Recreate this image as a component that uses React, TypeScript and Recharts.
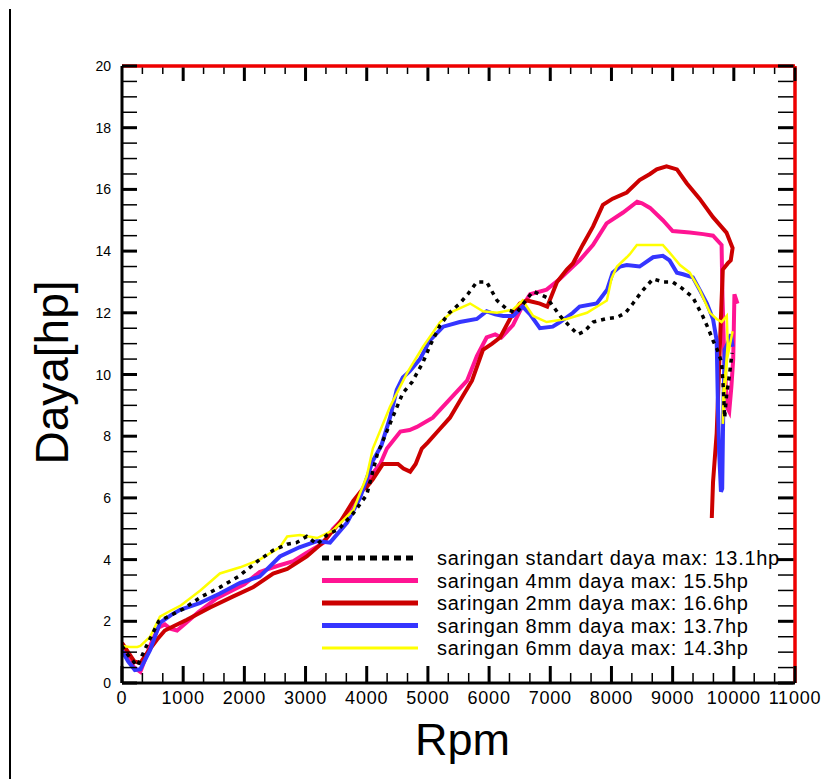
import React from 'react';
import { LineChart, Line, XAxis, YAxis, Legend, ReferenceLine } from 'recharts';

// ---- data ----
const STD_RPM = [0, 100, 250, 400, 600, 800, 1000, 1300, 1600, 1900, 2250, 2470, 2700, 2850, 3020, 3190, 3350, 3550, 3780, 4000, 4170, 4400, 4590, 4740, 4920, 5050, 5200, 5350, 5520, 5650, 5800, 5960, 6130, 6300, 6450, 6600, 6720, 6940, 7160, 7300, 7450, 7560, 7700, 7900, 8090, 8230, 8350, 8500, 8680, 8850, 9000, 9150, 9330, 9490, 9580, 9660, 9730, 9800, 9830, 9850, 9880, 9930, 9970];
const STD_HP = [1.2, 0.9, 0.55, 1.2, 2.0, 2.2, 2.4, 2.8, 3.1, 3.45, 4.0, 4.3, 4.5, 4.55, 4.75, 4.5, 4.8, 5.0, 5.5, 6.1, 7.4, 8.5, 9.4, 9.75, 10.4, 11.0, 11.6, 12.0, 12.3, 12.6, 13.0, 13.0, 12.4, 12.1, 12.0, 12.4, 12.7, 12.5, 11.9, 11.6, 11.3, 11.4, 11.7, 11.8, 11.85, 12.0, 12.3, 12.7, 13.1, 13.0, 13.0, 12.8, 12.5, 11.9, 11.5, 11.1, 10.8, 10.4, 9.5, 8.6, 9.3, 10.0, 10.7];

const MM4_RPM = [0, 100, 200, 300, 400, 500, 600, 700, 800, 900, 1050, 1250, 1550, 1800, 2000, 2250, 2550, 2800, 3000, 3300, 3450, 3650, 3900, 4100, 4220, 4330, 4550, 4700, 4820, 5080, 5360, 5640, 5800, 5960, 6100, 6200, 6390, 6540, 6670, 6940, 7160, 7370, 7480, 7700, 7920, 8190, 8420, 8500, 8630, 8840, 9000, 9280, 9500, 9660, 9800, 9815, 9840, 9870, 9900, 9925, 9960, 9990, 10000, 10010, 10060];
const MM4_HP = [1.1, 0.8, 0.5, 0.36, 0.9, 1.4, 1.8, 1.9, 1.75, 1.7, 1.95, 2.3, 2.75, 3.0, 3.2, 3.6, 3.8, 3.95, 4.2, 4.55, 5.0, 5.4, 6.2, 6.8, 7.1, 7.6, 8.15, 8.2, 8.3, 8.6, 9.2, 9.8, 10.6, 11.2, 11.3, 11.2, 11.6, 12.2, 12.6, 12.75, 13.1, 13.5, 13.7, 14.2, 14.9, 15.25, 15.6, 15.55, 15.4, 15.0, 14.65, 14.6, 14.55, 14.5, 14.2, 12.5, 10.8, 9.6, 8.9, 8.8, 9.6, 10.5, 11.5, 12.6, 12.3];

const MM2_RPM = [0, 100, 200, 300, 420, 570, 700, 850, 1060, 1440, 1810, 2140, 2470, 2700, 3020, 3280, 3560, 3780, 3900, 4000, 4100, 4265, 4400, 4510, 4600, 4710, 4800, 4900, 5000, 5180, 5360, 5570, 5720, 5900, 6050, 6180, 6340, 6500, 6620, 6830, 6950, 7110, 7270, 7370, 7530, 7700, 7860, 8020, 8250, 8460, 8630, 8740, 8900, 9070, 9230, 9440, 9660, 9880, 9980, 9950, 9900, 9820, 9800, 9770, 9720, 9660, 9640];
const MM2_HP = [1.3, 1.0, 0.7, 0.65, 1.0, 1.4, 1.7, 1.85, 2.05, 2.45, 2.8, 3.1, 3.55, 3.7, 4.1, 4.55, 5.2, 5.9, 6.2, 6.35, 6.6, 7.1, 7.1, 7.1, 6.95, 6.85, 7.1, 7.6, 7.8, 8.2, 8.6, 9.3, 9.8, 10.8, 11.0, 11.2, 11.8, 12.3, 12.4, 12.3, 12.2, 13.0, 13.4, 13.6, 14.2, 14.8, 15.5, 15.7, 15.9, 16.3, 16.5, 16.65, 16.75, 16.65, 16.2, 15.7, 15.1, 14.6, 14.1, 13.7, 13.6, 13.4, 12.4, 10.8, 8.1, 6.5, 5.35];

const MM8_RPM = [0, 100, 210, 300, 460, 620, 800, 950, 1280, 1600, 1930, 2250, 2580, 2900, 3190, 3400, 3680, 3890, 4100, 4240, 4380, 4490, 4590, 4700, 4870, 5030, 5250, 5520, 5800, 5960, 6100, 6230, 6390, 6550, 6670, 6830, 7040, 7160, 7370, 7480, 7760, 7930, 8020, 8140, 8250, 8460, 8680, 8840, 8950, 9070, 9170, 9330, 9440, 9560, 9660, 9720, 9740, 9760, 9790, 9810, 9825, 9850, 9900, 9950, 9980];
const MM8_HP = [1.05, 0.7, 0.42, 0.45, 1.07, 1.95, 2.2, 2.37, 2.6, 2.9, 3.25, 3.45, 4.1, 4.4, 4.6, 4.55, 5.2, 6.0, 7.2, 7.7, 8.6, 9.5, 9.9, 10.1, 10.5, 11.1, 11.55, 11.7, 11.8, 12.05, 11.95, 11.9, 11.9, 12.2, 11.95, 11.5, 11.55, 11.7, 12.0, 12.2, 12.3, 12.75, 13.3, 13.5, 13.55, 13.5, 13.8, 13.85, 13.7, 13.3, 13.25, 13.15, 12.75, 12.3, 11.8, 11.1, 9.0, 7.5, 6.2, 6.3, 8.5, 10.8, 11.0, 11.3, 10.9];

const MM6_RPM = [0, 130, 250, 300, 460, 620, 800, 950, 1280, 1600, 1930, 2250, 2580, 2700, 2910, 3190, 3450, 3780, 4000, 4100, 4380, 4660, 4920, 5200, 5410, 5690, 5900, 6130, 6390, 6550, 6720, 6940, 7270, 7600, 7925, 8000, 8090, 8250, 8300, 8415, 8840, 8950, 9120, 9280, 9440, 9610, 9720, 9800, 9885, 9900, 9870, 9830, 9820, 9840, 9890, 9930, 9980];
const MM6_HP = [1.2, 1.17, 1.17, 1.2, 1.5, 2.15, 2.35, 2.5, 3.0, 3.55, 3.75, 4.0, 4.4, 4.75, 4.8, 4.7, 4.95, 5.6, 6.7, 7.6, 8.95, 10.05, 10.9, 11.7, 12.05, 12.3, 12.05, 12.0, 12.1, 12.4, 11.9, 11.7, 11.8, 12.0, 12.4, 13.1, 13.5, 13.8, 13.9, 14.2, 14.2, 13.95, 13.55, 13.3, 12.75, 12.0, 11.8, 11.7, 11.9, 11.0, 10.2, 9.5, 8.4, 9.0, 10.5, 10.9, 11.4];

const X_MAJOR = [0, 1000, 2000, 3000, 4000, 5000, 6000, 7000, 8000, 9000, 10000, 11000];
const Y_MAJOR = [0, 2, 4, 6, 8, 10, 12, 14, 16, 18, 20];

const LEGEND_LABELS = [
  'saringan standart daya max: 13.1hp',
  'saringan 4mm daya max: 15.5hp',
  'saringan 2mm daya max: 16.6hp',
  'saringan 8mm daya max: 13.7hp',
  'saringan 6mm daya max: 14.3hp',
];

const COLORS = ['#000000', '#ff1493', '#cc0000', '#3535ff', '#ffff00'];
const FRAME_RED = '#ee0000';

const zip = (r: number[], h: number[]) => r.map((v, i) => ({ rpm: v, hp: h[i] }));

const SERIES = [
  { name: LEGEND_LABELS[0], data: zip(STD_RPM, STD_HP), color: COLORS[0], width: 3.5, dash: '4 5', lw: 5, ld: '7 5' },
  { name: LEGEND_LABELS[1], data: zip(MM4_RPM, MM4_HP), color: COLORS[1], width: 4, dash: undefined, lw: 5, ld: undefined },
  { name: LEGEND_LABELS[2], data: zip(MM2_RPM, MM2_HP), color: COLORS[2], width: 4, dash: undefined, lw: 5, ld: undefined },
  { name: LEGEND_LABELS[3], data: zip(MM8_RPM, MM8_HP), color: COLORS[3], width: 4, dash: undefined, lw: 5, ld: undefined },
  { name: LEGEND_LABELS[4], data: zip(MM6_RPM, MM6_HP), color: COLORS[4], width: 2.5, dash: undefined, lw: 3, ld: undefined },
];

// minor ticks: 3 subdivisions per 1000 rpm, 4 per 2 hp
const X_TICKS: number[] = [];
for (let i = 0; i < X_MAJOR.length - 1; i++) {
  const a = X_MAJOR[i], b = X_MAJOR[i + 1];
  X_TICKS.push(a, a + (b - a) / 3, a + (2 * (b - a)) / 3);
}
X_TICKS.push(X_MAJOR[X_MAJOR.length - 1]);
const Y_TICKS: number[] = [];
for (let i = 0; i < Y_MAJOR.length - 1; i++) {
  const a = Y_MAJOR[i], b = Y_MAJOR[i + 1];
  Y_TICKS.push(a, a + (b - a) / 4, a + (b - a) / 2, a + (3 * (b - a)) / 4);
}
Y_TICKS.push(Y_MAJOR[Y_MAJOR.length - 1]);

const isMajor = (v: number, step: number) => Math.abs(v / step - Math.round(v / step)) < 1e-6;

const FONT = '"Liberation Sans", Arial, Helvetica, sans-serif';

const BottomTick = (props: any) => {
  const { x, y, payload } = props;
  const major = isMajor(payload.value, 1000);
  return (
    <g>
      <line x1={x} x2={x} y1={y} y2={y - (major ? 17 : 10)} stroke="#000" strokeWidth={major ? 3 : 1.5} />
      {major && (
        <text x={x} y={y + 21} textAnchor="middle" fontSize={18} letterSpacing={0.8} fill="#000" fontFamily={FONT}>
          {Math.round(payload.value)}
        </text>
      )}
    </g>
  );
};

const TopTick = (props: any) => {
  const { x, y, payload } = props;
  const major = isMajor(payload.value, 1000);
  if (payload.value <= 0) return null;
  return <line x1={x} x2={x} y1={y + 1.5} y2={y + (major ? 15 : 8)} stroke="#000" strokeWidth={major ? 3 : 1.5} />;
};

const LeftTick = (props: any) => {
  const { x, y, payload } = props;
  const major = isMajor(payload.value, 2);
  return (
    <g>
      <line x1={x} x2={x + 15} y1={y} y2={y} stroke="#000" strokeWidth={major ? 3 : 1.5} />
      {major && (
        <text x={x - 11} y={y + 5} textAnchor="end" fontSize={14} fill="#000" fontFamily={FONT}>
          {payload.value}
        </text>
      )}
    </g>
  );
};

const RightTick = (props: any) => {
  const { x, y, payload } = props;
  const major = isMajor(payload.value, 2);
  return <line x1={x - 1.5} x2={x - 17} y1={y} y2={y} stroke="#000" strokeWidth={major ? 3 : 1.5} />;
};

const YTitle = (props: any) => {
  const vb = props.viewBox;
  const x = vb.x + 68;
  const y = vb.y + vb.height / 2 - 2;
  return (
    <text x={x} y={y} transform={`rotate(-90, ${x}, ${y})`} textAnchor="middle" fontSize={46} fill="#000" fontFamily={FONT}>
      Daya[hp]
    </text>
  );
};

const XTitle = (props: any) => {
  const vb = props.viewBox;
  return (
    <text x={vb.x + vb.width / 2 + 4} y={vb.y + 72} textAnchor="middle" fontSize={45} fill="#000" fontFamily={FONT}>
      Rpm
    </text>
  );
};

const LegendBox = () => (
  <svg width={470} height={125} style={{ display: 'block' }}>
    {SERIES.map((s, i) => {
      const cy = 13 + i * 22.5;
      return (
        <g key={s.name}>
          <line x1={6} x2={102} y1={cy} y2={cy} stroke={s.color} strokeWidth={s.lw} strokeDasharray={s.ld} />
          <text x={121} y={cy + 7} fontSize={20} letterSpacing={0.7} fill="#000" fontFamily={FONT}>
            {s.name}
          </text>
        </g>
      );
    })}
  </svg>
);

const DRAW_ORDER = [1, 2, 3, 4, 0];

export default function App() {
  return (
    <div style={{ position: 'absolute', left: 0, top: 0, width: 822, height: 779, background: '#fff' }}>
      <div style={{ position: 'absolute', left: 9, top: 9, width: 2, height: 770, background: '#000' }} />
      <LineChart width={822} height={779} margin={{ top: 36, right: 0, bottom: 0, left: 0 }}>
        <XAxis
          xAxisId="bottom"
          dataKey="rpm"
          type="number"
          domain={[0, 11000]}
          ticks={X_TICKS}
          interval={0}
          height={96}
          tickSize={0}
          tickMargin={0}
          tickLine={false}
          axisLine={{ stroke: '#000', strokeWidth: 3 }}
          tick={<BottomTick />}
          label={<XTitle />}
          allowDataOverflow
        />
        <XAxis
          xAxisId="top"
          orientation="top"
          dataKey="rpm"
          type="number"
          domain={[0, 11000]}
          ticks={X_TICKS}
          interval={0}
          height={30}
          tickSize={0}
          tickMargin={0}
          tickLine={false}
          axisLine={{ stroke: FRAME_RED, strokeWidth: 3 }}
          tick={<TopTick />}
          allowDataOverflow
        />
        <YAxis
          yAxisId="left"
          type="number"
          domain={[0, 20]}
          ticks={Y_TICKS}
          interval={0}
          width={122}
          tickSize={0}
          tickMargin={0}
          tickLine={false}
          axisLine={{ stroke: '#000', strokeWidth: 3 }}
          tick={<LeftTick />}
          label={<YTitle />}
          allowDataOverflow
        />
        <YAxis
          yAxisId="right"
          orientation="right"
          type="number"
          domain={[0, 20]}
          ticks={Y_TICKS}
          interval={0}
          width={27}
          tickSize={0}
          tickMargin={0}
          tickLine={false}
          axisLine={{ stroke: FRAME_RED, strokeWidth: 3 }}
          tick={<RightTick />}
          allowDataOverflow
        />
        {DRAW_ORDER.map((idx) => {
          const s = SERIES[idx];
          return (
            <Line
              key={s.name}
              xAxisId="bottom"
              yAxisId="left"
              data={s.data}
              dataKey="hp"
              name={s.name}
              type="linear"
              stroke={s.color}
              strokeWidth={s.width}
              strokeDasharray={s.dash}
              dot={false}
              activeDot={false}
              isAnimationActive={false}
            />
          );
        })}
        <ReferenceLine xAxisId="bottom" yAxisId="left" y={20} stroke={FRAME_RED} strokeWidth={3} ifOverflow="visible" />
        <ReferenceLine xAxisId="bottom" yAxisId="left" x={11000} stroke={FRAME_RED} strokeWidth={3} ifOverflow="visible" />
        <Legend
          layout="vertical"
          align="center"
          verticalAlign="middle"
          content={<LegendBox />}
          wrapperStyle={{ position: 'absolute', left: 316, top: 545, width: 470, height: 125 }}
        />
      </LineChart>
    </div>
  );
}
